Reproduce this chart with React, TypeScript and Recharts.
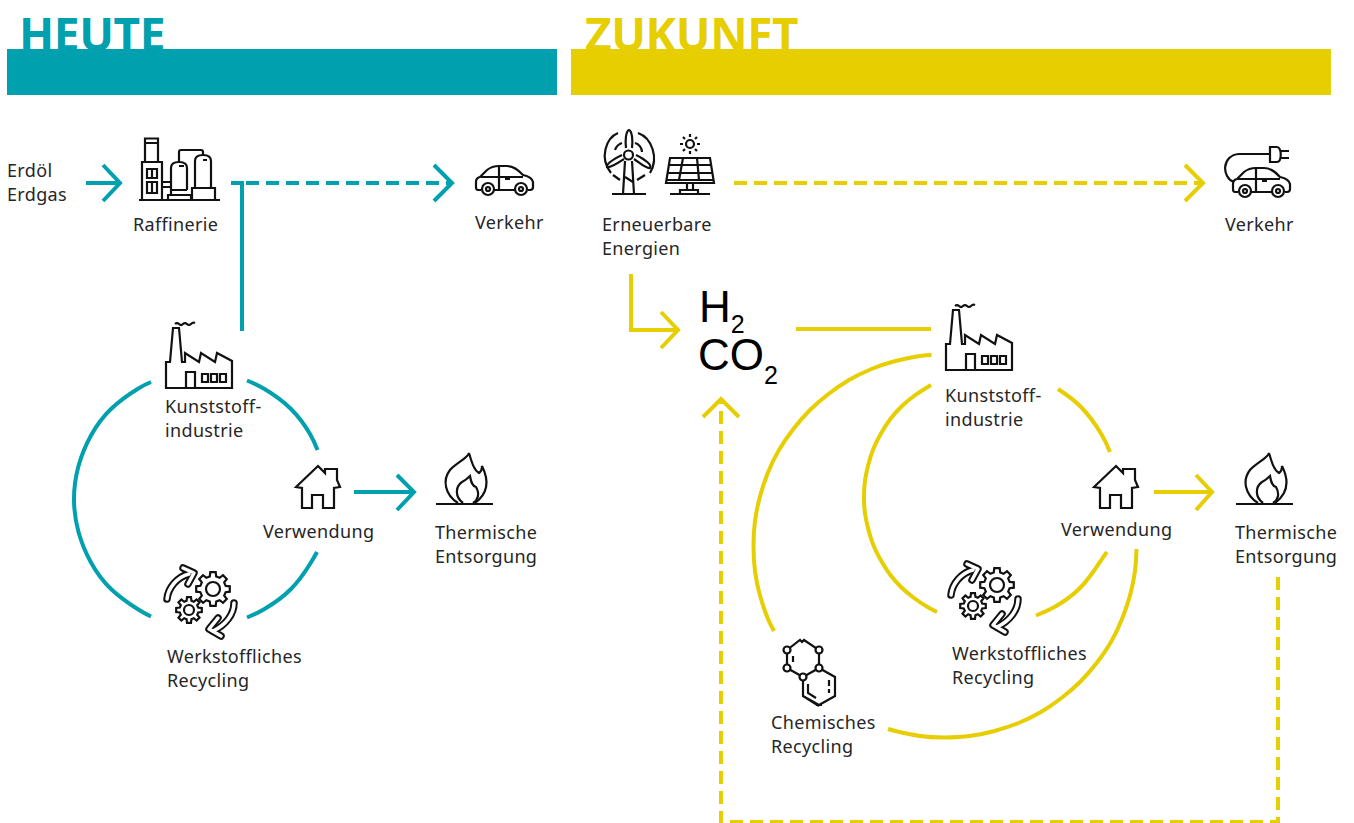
// Kunststoff-Kreislauf heute / Zukunft, drawn on a pixel-sized number scale
import { ComposedChart, Line, Scatter, ReferenceArea, XAxis, YAxis } from "recharts";

const W = 1354;
const H = 823;
const TEAL = "#00A0AF";
const YELLOW = "#E6CE00";
const INK = "#262626";
const FONT = "'Noto Sans', sans-serif";

type P = { x: number; y: number };
const pts = (...v: number[]): P[] => {
  const out: P[] = [];
  for (let i = 0; i < v.length; i += 2) out.push({ x: v[i], y: v[i + 1] });
  return out;
};

// straight runs and arrow heads
const tealStraight = [
  pts(86, 183, 119, 183),
  pts(103, 165, 120, 183, 103, 201),
  pts(231, 183, 244, 183),
  pts(242, 183, 242, 331),
  pts(434, 165, 452, 183, 434, 201),
  pts(354, 492, 412, 492),
  pts(397, 475, 414, 492, 397, 510),
];
const tealDashed = [pts(246, 183, 450, 183)];
const tealArcs = [
  pts(151, 382, 137.5, 389, 111, 409, 91, 435.5, 78.5, 466, 74, 499, 78.5, 532, 91, 562.5, 111, 589, 137.5, 609, 151, 616.5),
  pts(247, 380.5, 264.5, 389, 291, 409, 310, 434, 317.5, 450),
  pts(317, 552, 310, 564, 291, 589, 264.5, 609, 247, 617.5),
];
const yellowStraight = [
  pts(1185, 165, 1203, 183, 1185, 201),
  pts(631, 274, 631, 330, 677, 330),
  pts(661, 312, 678, 330, 661, 348),
  pts(796, 329, 931, 329),
  pts(1154, 492, 1210, 492),
  pts(1196, 475, 1212, 492, 1196, 510),
  pts(703, 417, 721, 399, 739, 417),
];
const yellowDashed = [
  pts(734, 183, 1201, 183),
  pts(1278, 577, 1278, 822, 721, 822, 721, 401),
];
const yellowArcs = [
  pts(931.5, 355, 920, 356, 895.5, 361, 871.5, 369, 849, 380, 828.5, 394, 809.5, 410.5, 793, 429.5, 779, 450, 768, 472.5, 760, 496.5, 755, 521, 753.5, 546, 755, 571, 760, 595.5, 768, 619, 774, 631),
  pts(888, 729, 895.5, 731, 920, 736, 945, 737.5, 970, 736, 994.5, 731, 1018.5, 723, 1041, 712, 1061.5, 698, 1080.5, 681.5, 1097, 662.5, 1111, 642, 1122, 619, 1130, 595.5, 1135, 571, 1136.5, 549),
  pts(931, 385, 914, 396, 901, 407, 890, 419.5, 881, 433.5, 873.5, 448.5, 868.5, 464, 865, 480.5, 864, 497, 865, 513.5, 868.5, 530, 873.5, 545.5, 881, 560.5, 890, 574.5, 901, 587, 914, 598, 927.5, 607, 937, 612),
  pts(1058, 389, 1081, 407, 1101, 433.5, 1110, 452),
  pts(1107, 552, 1101, 560.5, 1081, 587, 1054.5, 607, 1036, 615.5),
];

const titles = [
  { x: 19, y: 51, text: "HEUTE", fill: TEAL },
  { x: 585, y: 51, text: "ZUKUNFT", fill: YELLOW },
];
const labels = [
  { x: 7, y: 177, text: "Erdöl" },
  { x: 7, y: 201, text: "Erdgas" },
  { x: 133, y: 231, text: "Raffinerie" },
  { x: 475, y: 229, text: "Verkehr" },
  { x: 165, y: 413, text: "Kunststoff-" },
  { x: 165, y: 437, text: "industrie" },
  { x: 263, y: 538, text: "Verwendung" },
  { x: 435, y: 539, text: "Thermische" },
  { x: 435, y: 563, text: "Entsorgung" },
  { x: 167, y: 663, text: "Werkstoffliches" },
  { x: 167, y: 687, text: "Recycling" },
  { x: 602, y: 231, text: "Erneuerbare" },
  { x: 602, y: 255, text: "Energien" },
  { x: 1225, y: 231, text: "Verkehr" },
  { x: 945, y: 402, text: "Kunststoff-" },
  { x: 945, y: 426, text: "industrie" },
  { x: 1061, y: 536, text: "Verwendung" },
  { x: 1235, y: 539, text: "Thermische" },
  { x: 1235, y: 563, text: "Entsorgung" },
  { x: 952, y: 660, text: "Werkstoffliches" },
  { x: 952, y: 684, text: "Recycling" },
  { x: 771, y: 729, text: "Chemisches" },
  { x: 771, y: 753, text: "Recycling" },
];
const formulas = [
  { x: 699, y: 322, text: "H", sub: "2", drop: 11 },
  { x: 698, y: 370, text: "CO", sub: "2", drop: 14 },
];
const icons = [
  { x: 139, y: 138, icon: "refinery" },
  { x: 475, y: 165, icon: "car" },
  { x: 165, y: 323, icon: "factory" },
  { x: 296, y: 466, icon: "house" },
  { x: 436, y: 453, icon: "flame" },
  { x: 165, y: 567, icon: "gears" },
  { x: 602, y: 130, icon: "wind" },
  { x: 666, y: 136, icon: "solar" },
  { x: 1225, y: 147, icon: "ecar" },
  { x: 945, y: 305, icon: "factory" },
  { x: 1094, y: 466, icon: "house" },
  { x: 1236, y: 453, icon: "flame" },
  { x: 949, y: 563, icon: "gears" },
  { x: 783, y: 637, icon: "molecule" },
];

const gear = (cx: number, cy: number, r: number, R: number, n: number) => {
  let d = "";
  const step = (Math.PI * 2) / n;
  for (let i = 0; i < n; i++) {
    const a = i * step;
    const c = [
      [r, a - step * 0.32],
      [R, a - step * 0.2],
      [R, a + step * 0.2],
      [r, a + step * 0.32],
    ];
    c.forEach(([rad, t], j) => {
      d += `${i === 0 && j === 0 ? "M" : "L"}${(cx + rad * Math.cos(t)).toFixed(1)} ${(cy + rad * Math.sin(t)).toFixed(1)} `;
    });
  }
  return d + "Z";
};

const carBody = (
  <>
    <path d="M6 25H3Q1 25 1 22V17Q1 13 5 12L12 5Q17 1 24 1H32Q40 1 48 10Q57 12 58 17V22Q58 25 55 25H53M19 25H40" />
    <circle cx="13" cy="24" r="6" />
    <circle cx="13" cy="24" r="2" />
    <circle cx="46" cy="24" r="6" />
    <circle cx="46" cy="24" r="2" />
    <path d="M6 12H48M24 1V24M30 14H35" />
  </>
);

const bodyA = "M2 32C3 21 12 10 24 7";
const headA = "M18 1L29 6L23 17";
const bodyB = "M69 36C69 47 61 58 48 64";
const headB = "M53 51L44 62L56 69";

const ICON_GLYPHS: Record<string, React.ReactNode> = {
  refinery: (
    <>
      <path d="M0 62H81M3 62V24H23V62M6 24V0.5H19V24M6 5H19" />
      <path d="M8 31H18V40H8ZM13 31V40M8 44H18V55H8ZM13 44V55M23 44H32M23 49H32" />
      <path d="M32 57V30Q32 24 40 24Q48 24 48 30V52M32 52H48M29 62V57H52V62M40 28H45" />
      <path d="M56 50V23Q56 17 64 17Q72 17 72 23V50M53 62V50H76V62M64 22H68" />
      <path d="M40 24V14Q40 12 42 12H62Q64 12 64 14V17" />
    </>
  ),
  car: carBody,
  ecar: (
    <>
      <g transform="translate(7 20)">{carBody}</g>
      <path d="M9 35C-4 30 -3 8 14 7H45M52 0H45V15H52C57 15 57 0 52 0ZM55 4H64M55 11H64" />
    </>
  ),
  factory: (
    <>
      <path d="M10 1Q12 -1 14 1T18 1T22 1T26 1T30 0" />
      <path d="M1 65V39H5L8 5H14L17 39H20V30L34 39L36 30L50 39L52 30L67 38V65ZM21 65V49H30V65" />
      <path d="M37 51H43V59H37ZM46 51H52V59H46ZM55 51H61V59H55Z" />
    </>
  ),
  house: <path d="M0 21L22 0L29 7V3H41V14L44 21L38 22V42H27V29H16V42H6V22Z" />,
  flame: (
    <>
      <path d="M0 51H57" />
      <path d="M22 50C9 42 6 27 14 17C20 10 32 5 33 0C36 10 38 17 43 20C46 18 46 15 46 13C52 25 54 39 39 50" />
      <path d="M27 50C19 44 19 34 26 29C30 27 33 24 34 23C35 29 36 33 40 34C44 41 42 47 37 50" />
    </>
  ),
  gears: (
    <>
      <path d={gear(48, 22, 13, 17, 8)} />
      <circle cx="48" cy="22" r="7" />
      <path d={gear(24, 43, 9.5, 13, 8)} />
      <circle cx="24" cy="43" r="5" />
      <g strokeLinejoin="round" strokeLinecap="round">
        <path d={bodyA} strokeWidth={7.5} />
        <path d={headA} strokeWidth={7.5} />
        <path d={bodyB} strokeWidth={7.5} />
        <path d={headB} strokeWidth={7.5} />
        <path d={bodyA} stroke="#fff" strokeWidth={3.5} />
        <path d={headA} stroke="#fff" strokeWidth={3.5} />
        <path d={bodyB} stroke="#fff" strokeWidth={3.5} />
        <path d={headB} stroke="#fff" strokeWidth={3.5} />
      </g>
    </>
  ),
  wind: (
    <>
      <path d="M10 64H44M23 31L21 64M30 31L32 64M23 47L31 52" />
      <path d="M24 18C23 10 24 1 27 0C30 1 31 10 30 18" />
      <path d="M22 29C16 33 9 38 5 37C4 34 10 30 20 25" />
      <path d="M32 29C38 33 44 39 48 38C50 35 44 30 34 25" />
      <circle cx="26.500" cy="25" r="4.500" />
      <path d="M16 3C4 8 -3 28 9 43M36 3C50 8 57 28 48 43M13 20C14 17 17 14 20 13M33 13C37 14 40 18 40 22M11 45L18 50M35 50L43 45" />
    </>
  ),
  solar: (
    <>
      <circle cx="24" cy="8" r="4" />
      <path d="M24 -2V1M24 15V18M14 8H17M31 8H34M17 1L19 3M31 1L29 3M17 15L19 13M31 15L29 13" />
      <path d="M4 22H44L48 47H0ZM3 29H45M1.500 37H46.500M0.500 44H47.500M17 22L13 44M31 22L33 44M21 47V54M27 47V54M14 58V54H32V58M4 58H44" />
    </>
  ),
  molecule: (
    <>
      <path d="M4 13L17 3L19 5L21 3L36 13V31L20 40L4 31ZM20 40V59L36 68L52 59V40L36 31M20 59L36 69M20 3V5" />
      <path d="M10 19V25M46 43V49M46 52V56M25 47V56L33 61M33 68H39" />
      <g fill="#fff">
        <circle cx="4" cy="13" r="3.5" />
        <circle cx="36" cy="13" r="3.5" />
        <circle cx="4" cy="31" r="3.5" />
        <circle cx="36" cy="31" r="3.5" />
        <circle cx="20" cy="40" r="3.5" />
      </g>
    </>
  ),
};

const IconMark = ({ cx, cy, payload }: any) => (
  <g transform={`translate(${cx} ${cy})`} fill="none" stroke="#111" strokeWidth={2.2}>
    {ICON_GLYPHS[payload.icon]}
  </g>
);

const LabelMark = ({ cx, cy, payload }: any) => (
  <text x={cx} y={cy} fontFamily={FONT} fontSize={18} letterSpacing={0.35} fill={INK}>
    {payload.text}
  </text>
);

const TitleMark = ({ cx, cy, payload }: any) => (
  <text x={cx} y={cy} fontFamily={FONT} fontWeight={700} fontSize={46} letterSpacing={-0.4} fill={payload.fill}>
    {payload.text}
  </text>
);

const FormulaMark = ({ cx, cy, payload }: any) => (
  <text x={cx} y={cy} fontFamily="'Liberation Sans', Arial, sans-serif" fontSize={44} fill="#000">
    {payload.text}
    <tspan fontSize={25} dy={payload.drop}>
      {payload.sub}
    </tspan>
  </text>
);

const series = (
  list: P[][],
  name: string,
  color: string,
  curve: "linear" | "natural",
  dash?: string
) =>
  list.map((data, i) => (
    <Line
      key={`${name}-${i}`}
      data={data}
      dataKey="y"
      type={curve}
      stroke={color}
      strokeWidth={4}
      strokeDasharray={dash}
      dot={false}
      activeDot={false}
      legendType="none"
      isAnimationActive={false}
    />
  ));

export default function App() {
  return (
    <div style={{ position: "absolute", left: 0, top: 0, width: W, height: H, background: "#fff" }}>
      <ComposedChart width={W} height={H} margin={{ top: 0, right: 0, bottom: 0, left: 0 }}>
        <XAxis type="number" dataKey="x" domain={[0, W]} hide allowDataOverflow />
        <YAxis type="number" dataKey="y" domain={[0, H]} reversed hide allowDataOverflow />
        <Scatter data={titles} dataKey="y" shape={TitleMark} isAnimationActive={false} />
        <ReferenceArea x1={7} x2={557} y1={49} y2={95} fill={TEAL} fillOpacity={1} stroke="none" />
        <ReferenceArea x1={571} x2={1331} y1={49} y2={95} fill={YELLOW} fillOpacity={1} stroke="none" />
        {series(tealStraight, "teal", TEAL, "linear")}
        {series(tealDashed, "teal-dash", TEAL, "linear", "13 7")}
        {series(tealArcs, "teal-arc", TEAL, "natural")}
        {series(yellowStraight, "yellow", YELLOW, "linear")}
        {series(yellowDashed, "yellow-dash", YELLOW, "linear", "13 7")}
        {series(yellowArcs, "yellow-arc", YELLOW, "natural")}
        <Scatter data={icons} dataKey="y" shape={IconMark} isAnimationActive={false} />
        <Scatter data={labels} dataKey="y" shape={LabelMark} isAnimationActive={false} />
        <Scatter data={formulas} dataKey="y" shape={FormulaMark} isAnimationActive={false} />
      </ComposedChart>
    </div>
  );
}
